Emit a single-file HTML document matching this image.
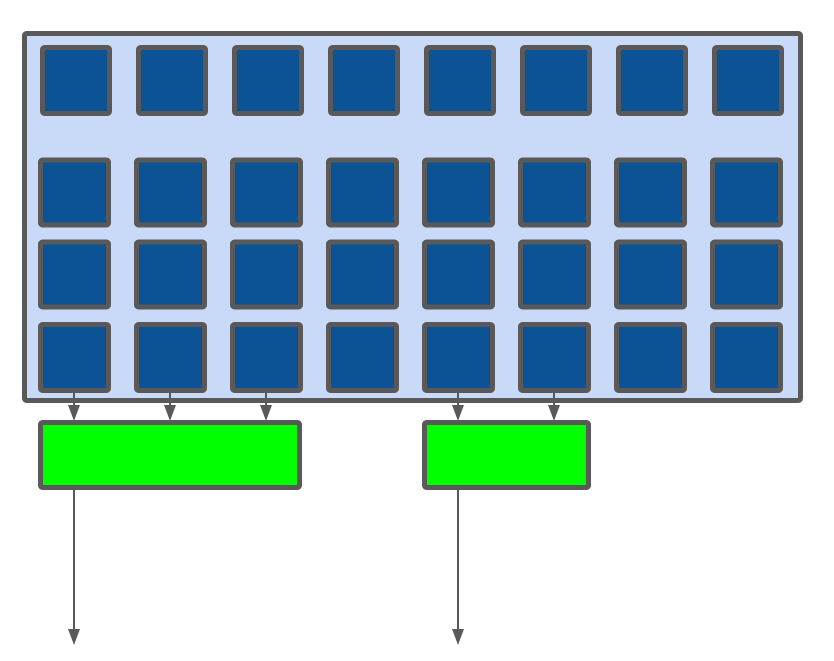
<!DOCTYPE html>
<html><head><meta charset="utf-8"><style>
html,body{margin:0;padding:0;background:#fff;}
svg{display:block;}
</style></head><body>
<svg width="834" height="661" viewBox="0 0 834 661" xmlns="http://www.w3.org/2000/svg">
<rect x="24.5" y="33.5" width="776" height="367" rx="2" fill="#c9daf8" stroke="#595959" stroke-width="5"/>
<g fill="#0b5394" stroke="#595959" stroke-width="5">
<rect x="42.5" y="47.5" width="67" height="66" rx="2"/>
<rect x="138.5" y="47.5" width="67" height="66" rx="2"/>
<rect x="234.5" y="47.5" width="67" height="66" rx="2"/>
<rect x="330.5" y="47.5" width="67" height="66" rx="2"/>
<rect x="426.5" y="47.5" width="67" height="66" rx="2"/>
<rect x="522.5" y="47.5" width="67" height="66" rx="2"/>
<rect x="618.5" y="47.5" width="67" height="66" rx="2"/>
<rect x="714.5" y="47.5" width="67" height="66" rx="2"/>
</g>
<g fill="#0b5394" stroke="#595959" stroke-width="5">
<rect x="40.5" y="160" width="68" height="65" rx="2"/>
<rect x="136.5" y="160" width="68" height="65" rx="2"/>
<rect x="232.5" y="160" width="68" height="65" rx="2"/>
<rect x="328.5" y="160" width="68" height="65" rx="2"/>
<rect x="424.5" y="160" width="68" height="65" rx="2"/>
<rect x="520.5" y="160" width="68" height="65" rx="2"/>
<rect x="616.5" y="160" width="68" height="65" rx="2"/>
<rect x="712.5" y="160" width="68" height="65" rx="2"/>
<rect x="40.5" y="242" width="68" height="65" rx="2"/>
<rect x="136.5" y="242" width="68" height="65" rx="2"/>
<rect x="232.5" y="242" width="68" height="65" rx="2"/>
<rect x="328.5" y="242" width="68" height="65" rx="2"/>
<rect x="424.5" y="242" width="68" height="65" rx="2"/>
<rect x="520.5" y="242" width="68" height="65" rx="2"/>
<rect x="616.5" y="242" width="68" height="65" rx="2"/>
<rect x="712.5" y="242" width="68" height="65" rx="2"/>
<rect x="40.5" y="324.5" width="68" height="66" rx="2"/>
<rect x="136.5" y="324.5" width="68" height="66" rx="2"/>
<rect x="232.5" y="324.5" width="68" height="66" rx="2"/>
<rect x="328.5" y="324.5" width="68" height="66" rx="2"/>
<rect x="424.5" y="324.5" width="68" height="66" rx="2"/>
<rect x="520.5" y="324.5" width="68" height="66" rx="2"/>
<rect x="616.5" y="324.5" width="68" height="66" rx="2"/>
<rect x="712.5" y="324.5" width="68" height="66" rx="2"/>
</g>
<g stroke="#595959" stroke-width="2">
<line x1="74" y1="393" x2="74" y2="408"/>
<line x1="170" y1="393" x2="170" y2="408"/>
<line x1="266" y1="393" x2="266" y2="408"/>
<line x1="458" y1="393" x2="458" y2="408"/>
<line x1="554" y1="393" x2="554" y2="408"/>
<line x1="74" y1="490" x2="74" y2="632"/>
<line x1="458" y1="490" x2="458" y2="632"/>
</g>
<g fill="#595959">
<polygon points="68,405 80,405 74,421"/>
<polygon points="164,405 176,405 170,421"/>
<polygon points="260,405 272,405 266,421"/>
<polygon points="452,405 464,405 458,421"/>
<polygon points="548,405 560,405 554,421"/>
<polygon points="68,629 80,629 74,645"/>
<polygon points="452,629 464,629 458,645"/>
</g>
<rect x="40.5" y="422.5" width="259" height="65" rx="2" fill="#00ff00" stroke="#595959" stroke-width="5"/>
<rect x="424.5" y="422.5" width="164" height="65" rx="2" fill="#00ff00" stroke="#595959" stroke-width="5"/>
</svg>
</body></html>
